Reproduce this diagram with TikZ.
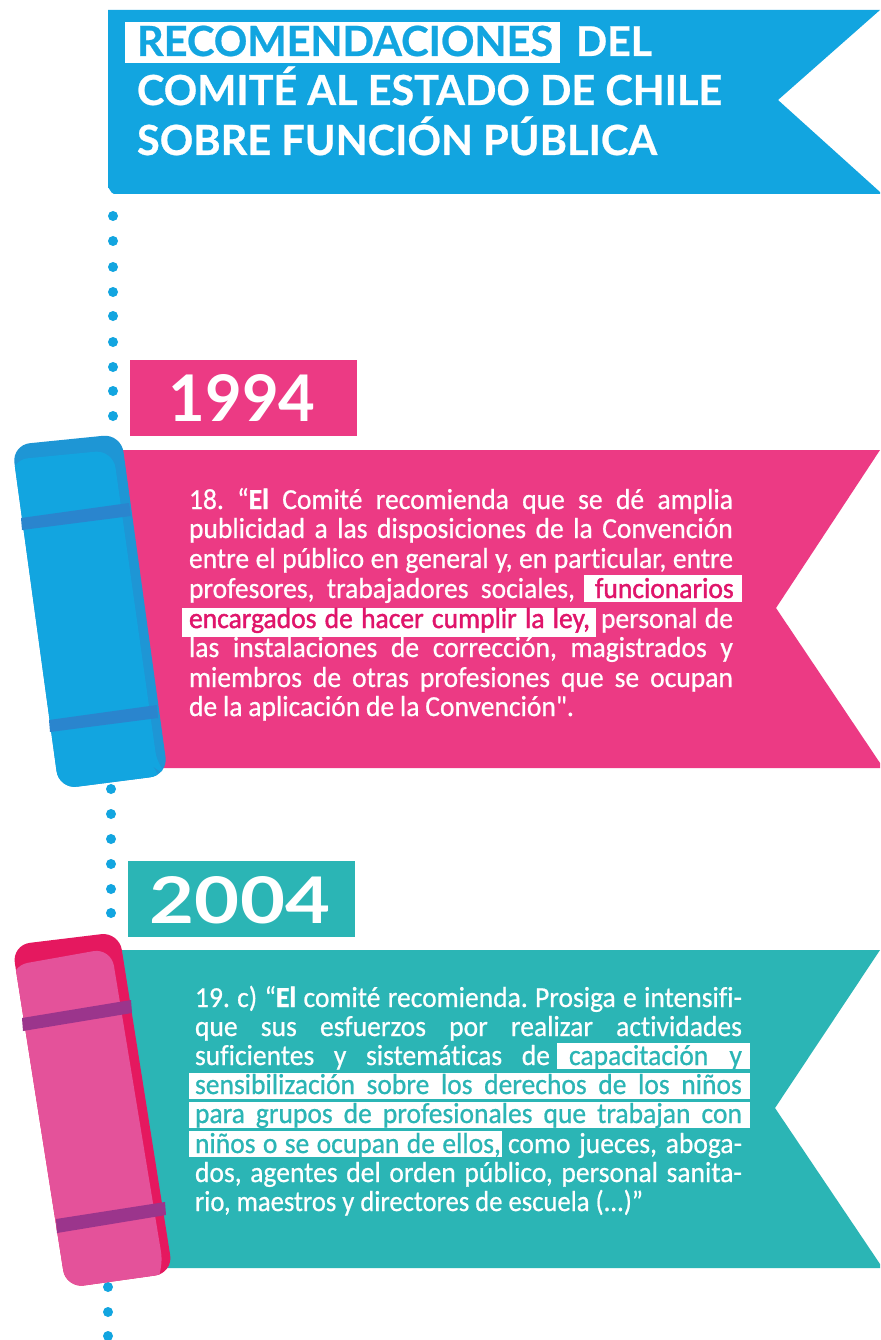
\documentclass[tikz,border=0pt]{standalone}
\usepackage{fontspec}
\setmainfont{Carlito}
\newfontfamily\titlefont{Lato}[BoldFont=Lato Bold,BoldFeatures={FakeBold=0.6}]
\newfontfamily\yearfont{Lato Bold}
\newfontfamily\bodyfont{Carlito}[FakeBold=0.7,FakeStretch=0.95,Ligatures=NoCommon,BoldFeatures={FakeBold=1.2}]
\newfontfamily\hlfont{Carlito}[FakeBold=1.4,FakeStretch=0.95,Ligatures=NoCommon]
\definecolor{cblue}{HTML}{12A5E0}
\definecolor{cbluedark}{HTML}{1E96D5}
\definecolor{cblueband}{HTML}{2A85CE}
\definecolor{cpink}{HTML}{EC3A84}
\definecolor{cteal}{HTML}{2BB5B5}
\definecolor{cmag}{HTML}{E5185F}
\definecolor{cmaglight}{HTML}{E4529A}
\definecolor{cband}{HTML}{9B358C}
\definecolor{chl}{HTML}{E0156B}
\tikzset{
  linetext/.style={anchor=base west,inner sep=0pt,outer sep=0pt,text=white,font=\fontsize{29}{31}\selectfont\bodyfont\frenchspacing},
  hlpink/.style={linetext,text=chl,font=\fontsize{29}{31}\selectfont\hlfont\frenchspacing},
  hlteal/.style={linetext,text=cteal},
  titletext/.style={anchor=base west,inner sep=0pt,outer sep=0pt,text=white,font=\fontsize{41}{44}\selectfont\titlefont\bfseries},
  yeartext/.style={anchor=center,inner sep=0pt,outer sep=0pt,text=white,font=\yearfont},
  hlbox/.style={fill=white,draw=none},
  dot/.style={fill=cblue,draw=none}
}
\newcommand{\txtline}[6]{\node[#1] (#2) at (#3,#4) {\makebox[#5pt][s]{#6}};}
\begin{document}
\begin{tikzpicture}[x=1pt,y=-1pt]
\useasboundingbox (0,0) rectangle (880,1340);
\fill[white] (0,0) rectangle (880,1340);
% dotted line
\foreach \yy in {216,241,267,292,316,342,367,391,416}{\fill[dot] (113,\yy) circle (5pt);}
\foreach \yy in {789,814,839,864,889,913}{\fill[dot] (111,\yy) circle (5pt);}
\foreach \yy in {1287,1312,1336}{\fill[dot] (108,\yy) circle (5pt);}
% header
\fill[cblue] (108,20) -- (108,10) -- (880,10) -- (778,100) -- (880,192) -- (880,194) -- (114,194) to[out=180,in=90] (108,188) -- cycle;
\fill[hlbox] (125,22) rectangle (560,63);
\node[titletext,text=cblue] (t1) at (137,56) {\resizebox{416pt}{!}{RECOMENDACIONES}};
\node[titletext] (t1b) at (576,56) {DEL};
\node[titletext] (t2) at (137,105) {\resizebox{585pt}{!}{COMITÉ AL ESTADO DE CHILE}};
\node[titletext] (t3) at (137,155) {\resizebox{520pt}{!}{SOBRE FUNCIÓN PÚBLICA}};
% year boxes
\fill[cpink] (130,360) rectangle (357,436);
\node[yeartext] (y1) at (242,398) {\resizebox{147pt}{47pt}{1994}};
\fill[cteal] (128,861) rectangle (355,937);
\node[yeartext] (y2) at (240,900) {\resizebox{180pt}{47pt}{2004}};
% ribbons
\fill[cpink] (118,450) -- (880,450) -- (776,608) -- (880,763) -- (880,768) -- (118,768) -- cycle;
\fill[cteal] (118,950) -- (880,950) -- (775,1108) -- (880,1264) -- (880,1268) -- (118,1268) -- cycle;
% blue scroll
\fill[cbluedark,rounded corners=18pt] (12,445) -- (121,434) -- (168,775) -- (59,789) -- cycle;
\begin{scope}
\clip[rounded corners=18pt] (12,445) -- (121,434) -- (168,775) -- (59,789) -- cycle;
\fill[cblue,rounded corners=18pt] (10,460) -- (113,450) -- (158,770) -- (165,775) -- (150,795) -- (50,795) -- cycle;
\end{scope}
\fill[cblueband] (21,518) -- (129,503) -- (131,516) -- (22,530) -- cycle;
\fill[cblueband] (49,720) -- (157,705) -- (158,718) -- (50,732) -- cycle;
% pink scroll
\fill[cmag,rounded corners=18pt] (12,945) -- (119,932) -- (173,1273) -- (66,1288) -- cycle;
\begin{scope}
\clip[rounded corners=18pt] (12,945) -- (119,932) -- (173,1273) -- (66,1288) -- cycle;
\fill[cmaglight,rounded corners=18pt] (10,966) -- (111,948) -- (164,1270) -- (150,1295) -- (50,1295) -- cycle;
\end{scope}
\fill[cband] (22,1018) -- (131,1000) -- (132,1013) -- (23,1031) -- cycle;
\fill[cband] (56,1219) -- (165,1202) -- (166,1215) -- (57,1233) -- cycle;
% highlights 1994
\fill[hlbox] (584,575) rectangle (742,602);
\fill[hlbox] (182,608) rectangle (596,637);
% text 1994
\txtline{linetext}{a1}{189}{509}{544}{18. “\textbf{El} Comité recomienda que se dé amplia}
\txtline{linetext}{a2}{189}{538}{544}{publicidad a las disposiciones de la Convención}
\txtline{linetext}{a3}{189}{568}{544}{entre el público en general y, en particular, entre}
\txtline{linetext}{a4}{189}{598}{386}{profesores, trabajadores sociales,}
\txtline{hlpink}{a4b}{595}{598}{137}{funcionarios}
\txtline{hlpink}{a5}{189}{628}{401}{encargados de hacer cumplir la ley,}
\txtline{linetext}{a5b}{601}{628}{132}{personal de}
\txtline{linetext}{a6}{189}{657}{544}{las instalaciones de corrección, magistrados y}
\txtline{linetext}{a7}{189}{687}{544}{miembros de otras profesiones que se ocupan}
\txtline{linetext}{a8}{189}{716}{385}{de la aplicación de la Convención".}
% highlights 2004
\fill[hlbox] (557,1043) rectangle (750,1069);
\fill[hlbox] (189,1073) rectangle (750,1099);
\fill[hlbox] (189,1102) rectangle (750,1128);
\fill[hlbox] (189,1131) rectangle (502,1157);
% text 2004
\txtline{linetext}{b1}{195}{1007}{547}{19. c) “\textbf{El} comité recomienda. Prosiga e intensifi-}
\txtline{linetext}{b2}{195}{1036}{547}{que sus esfuerzos por realizar actividades}
\txtline{linetext}{b3}{195}{1065}{355}{suficientes y sistemáticas de}
\txtline{hlteal}{b3b}{569}{1065}{173}{capacitación y}
\txtline{hlteal}{b4}{195}{1094}{547}{sensibilización sobre los derechos de los niños}
\txtline{hlteal}{b5}{195}{1123}{547}{para grupos de profesionales que trabajan con}
\txtline{hlteal}{b6}{195}{1153}{306}{niños o se ocupan de ellos,}
\txtline{linetext}{b6b}{508}{1153}{234}{como jueces, aboga-}
\txtline{linetext}{b7}{195}{1182}{547}{dos, agentes del orden público, personal sanita-}
\node[linetext] (b8) at (195,1211) {\resizebox{448pt}{\height}{rio, maestros y directores de escuela (...)”}};
\end{tikzpicture}
\end{document}
